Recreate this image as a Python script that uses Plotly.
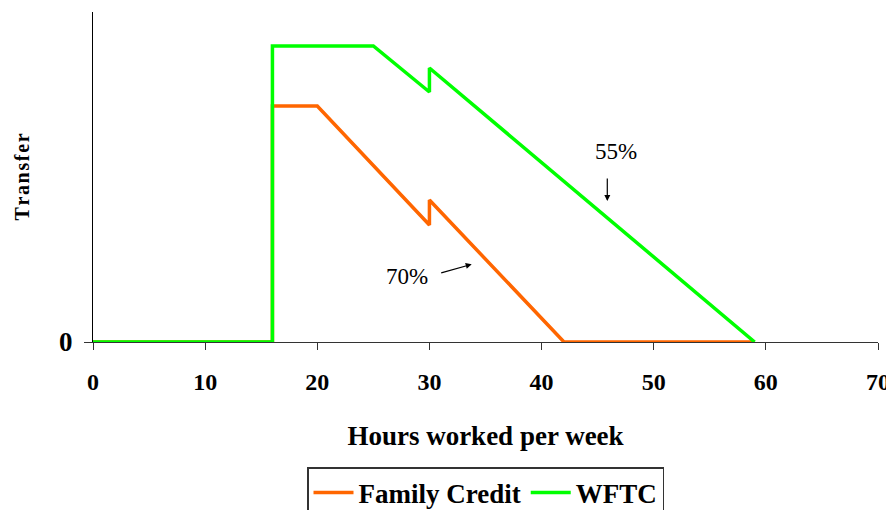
import plotly.graph_objects as go

# hours worked per week and transfer (arbitrary units)
fc_hours = [0, 16, 16, 20, 30, 30, 42, 59]
fc_transfer = [0, 0, 236, 236, 117, 142, 0, 0]
wftc_hours = [0, 16, 16, 25, 30, 30, 59]
wftc_transfer = [0, 0, 296, 296, 250, 274, 0]

font_family = "Liberation Serif, Times New Roman, serif"

fig = go.Figure()
fig.add_trace(go.Scatter(x=fc_hours, y=fc_transfer, mode='lines', name='Family Credit',
                         line=dict(color='#FF6600', width=3.5)))
fig.add_trace(go.Scatter(x=wftc_hours, y=wftc_transfer, mode='lines', name='WFTC',
                         line=dict(color='#00FF00', width=3.5)))

fig.add_annotation(x=46.6, y=191, text='55%', showarrow=False,
                   font=dict(size=23, color='black', family=font_family))
fig.add_annotation(x=45.86, y=141, text='', showarrow=True, ax=0, ay=-24,
                   arrowhead=2, arrowsize=1, arrowwidth=1.2, arrowcolor='black')
fig.add_annotation(x=28.0, y=65.5, text='70%', showarrow=False,
                   font=dict(size=23, color='black', family=font_family))
fig.add_annotation(x=33.77, y=77.7, text='', showarrow=True, ax=-32, ay=9,
                   arrowhead=2, arrowsize=1, arrowwidth=1.2, arrowcolor='black')

# page body adds an 8px offset, margins compensate for it
fig.update_layout(
    width=894, height=510,
    margin=dict(l=85, r=24, t=4, b=176, autoexpand=False),
    paper_bgcolor='white', plot_bgcolor='white',
    font=dict(family=font_family, color='black'),
    showlegend=True,
    legend=dict(orientation='h', x=0.5, xanchor='center', y=-0.379, yanchor='top',
                bordercolor='#333333', borderwidth=1.5,
                font=dict(size=27, family=font_family, weight='bold'),
                itemwidth=40),
    xaxis=dict(
        range=[0, 70], tickvals=[0, 10, 20, 30, 40, 50, 60, 70],
        showline=True, linecolor='#333333', linewidth=1,
        ticks='outside', ticklen=7, tickcolor='#333333',
        showgrid=False, zeroline=False, automargin=False,
        ticklabelstandoff=11,
        tickfont=dict(size=24, family=font_family, weight='bold'),
        title=dict(text='Hours worked per week', standoff=32,
                   font=dict(size=27, family=font_family, weight='bold')),
    ),
    yaxis=dict(
        range=[0, 330], tickvals=[0], ticktext=['0'],
        showline=True, linecolor='black', linewidth=1,
        ticks='outside', ticklen=8, tickcolor='#333333',
        showgrid=False, zeroline=False, automargin=False,
        ticklabelstandoff=6,
        tickfont=dict(size=27, family=font_family, weight='bold'),
        title=dict(text='T\u200ar\u200aa\u200an\u200as\u200af\u200ae\u200ar', standoff=24,
                   font=dict(size=20, family=font_family, weight='bold')),
    ),
)

fig.write_html("out.html")
